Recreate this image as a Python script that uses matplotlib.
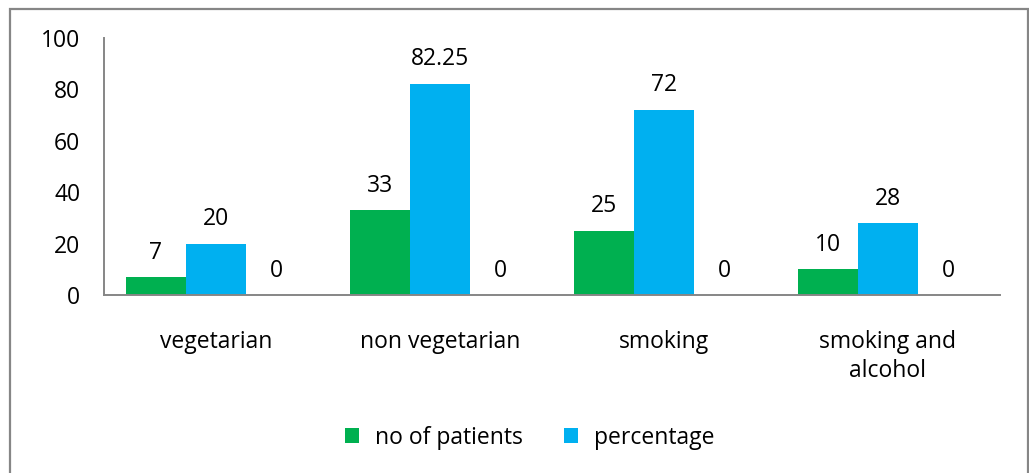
import matplotlib.pyplot as plt
from matplotlib.patches import Rectangle
import numpy as np

# data
categories = ['vegetarian', 'non vegetarian', 'smoking', 'smoking and\nalcohol']
patients = [7, 33, 25, 10]
percentage = [20, 82.25, 72, 28]
third = [0, 0, 0, 0]

green = '#00B050'
blue = '#00B0F0'
grey = '#868686'

plt.rcParams['font.family'] = ['Open Sans', 'DejaVu Sans']
fs = 16.5

fig = plt.figure(figsize=(10.29, 4.73), dpi=100)
ax = fig.add_axes([0.1011, 0.3763, 0.8707, 0.5434])

# chart border
fig.patches.append(Rectangle((10 / 1029, -0.05), 1018 / 1029, 1.05 - 9 / 473,
                             transform=fig.transFigure, fill=False,
                             edgecolor=grey, linewidth=1.6))

x = np.arange(len(categories))
w = 0.268
b1 = ax.bar(x - w, patients, w, color=green, label='no of patients')
b2 = ax.bar(x, percentage, w, color=blue, label='percentage')
b3 = ax.bar(x + w, third, w, color='none')

for bars, vals in [(b1, patients), (b2, percentage), (b3, third)]:
    for r, v in zip(bars, vals):
        ax.annotate(f'{v:g}', (r.get_x() + r.get_width() / 2, v),
                    xytext=(0, 9), textcoords='offset points',
                    ha='center', va='bottom', fontsize=fs)

ax.set_xlim(-0.5, 3.5)
ax.set_ylim(0, 100)
ax.set_yticks(range(0, 101, 20))
ax.set_xticks(x)
ax.set_xticklabels(categories, linespacing=1.3)
ax.tick_params(axis='both', length=0, labelsize=fs)
ax.tick_params(axis='x', pad=25)
ax.tick_params(axis='y', pad=17)

for s in ['top', 'right']:
    ax.spines[s].set_visible(False)
for s in ['left', 'bottom']:
    ax.spines[s].set_color(grey)
    ax.spines[s].set_linewidth(1.4)

fig.legend(handles=[b1, b2], loc='center', bbox_to_anchor=(0.515, 0.075),
           ncol=2, frameon=False, fontsize=fs, handlelength=0.6,
           handleheight=0.6, columnspacing=1.8, handletextpad=0.7)

fig.savefig('out.png', dpi=100)
